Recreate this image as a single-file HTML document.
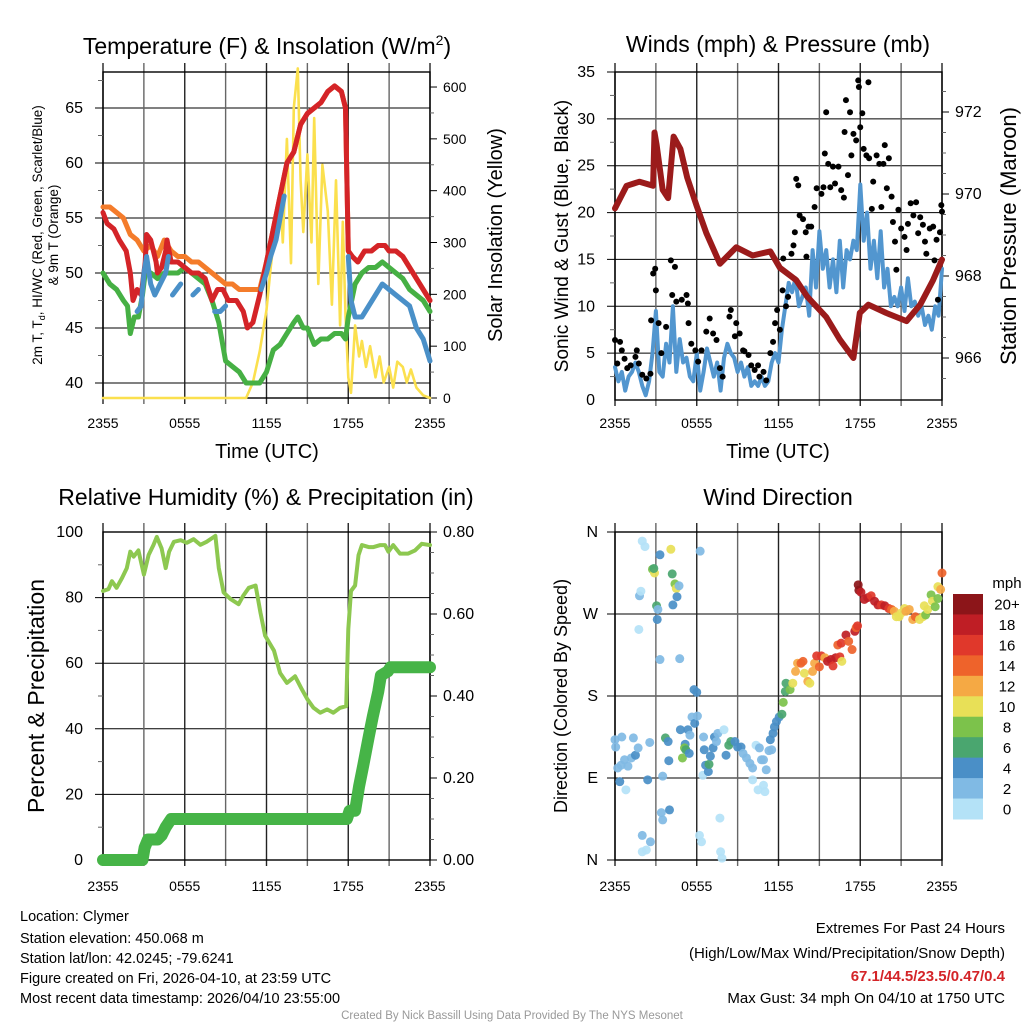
<!DOCTYPE html>
<html><head><meta charset="utf-8"><style>
html,body{margin:0;padding:0;background:#fff;}
svg{display:block;font-family:"Liberation Sans",Arial,sans-serif;}
</style></head><body>
<svg id="chart" width="1024" height="1024" viewBox="0 0 1024 1024" xmlns="http://www.w3.org/2000/svg">
<rect width="1024" height="1024" fill="#fff"/>
<text x="267" y="54" font-size="23" text-anchor="middle">Temperature (F) &amp; Insolation (W/m<tspan font-size="14" dy="-9">2</tspan><tspan dy="9">)</tspan></text>
<text x="778" y="52" font-size="23" text-anchor="middle">Winds (mph) &amp; Pressure (mb)</text>
<text x="266" y="505" font-size="23" text-anchor="middle">Relative Humidity (%) &amp; Precipitation (in)</text>
<text x="778" y="505" font-size="23" text-anchor="middle">Wind Direction</text>

<text transform="translate(42,235) rotate(-90)" font-size="13.5" text-anchor="middle">2m T, T<tspan font-size="9" dy="3">d</tspan><tspan dy="-3">, HI/WC (Red, Green, Scarlet/Blue)</tspan></text>
<text transform="translate(58,235) rotate(-90)" font-size="13.5" text-anchor="middle">&amp; 9m T (Orange)</text>
<text transform="translate(502,235) rotate(-90)" font-size="20" text-anchor="middle">Solar Insolation (Yellow)</text>
<text transform="translate(568,236) rotate(-90)" font-size="19" text-anchor="middle">Sonic Wind &amp; Gust (Blue, Black)</text>
<text transform="translate(1016,236) rotate(-90)" font-size="22" text-anchor="middle">Station Pressure (Maroon)</text>
<text transform="translate(44,696) rotate(-90)" font-size="23" text-anchor="middle">Percent &amp; Precipitation</text>
<text transform="translate(567,696) rotate(-90)" font-size="18" text-anchor="middle">Direction (Colored By Speed)</text>
<text x="267" y="458" font-size="20" text-anchor="middle">Time (UTC)</text>
<text x="778" y="458" font-size="20" text-anchor="middle">Time (UTC)</text>

<g font-size="14.5">
<text x="20" y="921">Location: Clymer</text>
<text x="20" y="943">Station elevation: 450.068 m</text>
<text x="20" y="963">Station lat/lon: 42.0245; -79.6241</text>
<text x="20" y="983">Figure created on Fri, 2026-04-10, at 23:59 UTC</text>
<text x="20" y="1003">Most recent data timestamp: 2026/04/10 23:55:00</text>
</g>
<g font-size="15" text-anchor="end">
<text x="1005" y="933">Extremes For Past 24 Hours</text>
<text x="1005" y="958">(High/Low/Max Wind/Precipitation/Snow Depth)</text>
<text x="1005" y="981" fill="#d42428" font-weight="bold">67.1/44.5/23.5/0.47/0.4</text>
<text x="1005" y="1003">Max Gust: 34 mph On 04/10 at 1750 UTC</text>
</g>
<text x="512" y="1019" font-size="11.5" fill="#999" text-anchor="middle">Created By Nick Bassill Using Data Provided By The NYS Mesonet</text>
<g id="layer"></g>
</svg>
<script>
// ---- data ----
const tempT=[0,0.3,0.8,1.2,1.7,2,2.2,2.5,2.8,3.1,3.2,3.5,3.9,4,4.3,4.6,4.7,5,5.5,6,6.5,7,7.5,8,8.4,8.8,9.2,9.8,10.3,10.6,11,11.5,12,12.5,13,13.5,14,14.5,15,15.5,16,16.5,17,17.5,17.8,18,18.3,18.7,19.2,19.7,20.2,20.7,21,21.5,22,22.5,23,23.5,24];
const tempV=[55.5,54.5,54,53,52,50,47.5,48.5,48,51,53.5,53,51,50,50.5,52,53,51,51,50.5,50,50,49.5,47.5,48.5,48.5,47.5,47.5,46.5,45,45.5,48,51,54,57,60,61,63.5,64.5,65,65.5,66.5,67,66.5,65,52,51.5,51,52,52,52.5,52.5,52,52,51.5,50.5,49.5,48.5,47.5];
const t9T=[0,0.5,1,1.5,2,2.5,3,3.5,4,4.5,5,5.5,6,6.5,7,7.5,8,8.5,9,9.5,10,10.5,11,11.5,12,12.5,13,13.5,14,14.5,15,15.5,16,16.5,17,17.5,17.8,18,18.3,18.7,19.2,19.7,20.2,20.7,21,21.5,22,22.5,23,23.5,24];
const t9V=[56,56,55.5,55,53.5,53,52,52.5,51.5,53,52,51.5,51.5,51,51,50.5,50,49.5,49,49,48.5,48.5,48.5,48.5,51,54,57,60,61,63.5,64.5,65,65.5,66.5,67,66.5,65,52,51.5,51,52,52,52.5,52.5,52,52,51.5,50.5,49.5,48.5,47.5];
const dewT=[0,0.5,1,1.5,1.8,2,2.3,2.6,2.9,3.1,3.5,4,4.5,5,5.5,6,6.5,7,7.5,8,8.5,9,9.5,10,10.5,11,11.5,12,12.5,13,13.5,14,14.3,14.7,15,15.5,16,16.5,17,17.5,17.8,18,18.5,19,19.5,20,20.5,21,21.5,22,22.5,23,23.5,24];
const dewV=[50,49,48.5,47.5,47,44.5,46,46,48,50,50,49.5,50,50,50,50.5,50,49.5,49,47.5,45.5,42,41.5,41,40,40,40,41,43,43.5,44.5,45.5,46,45,45,43.5,44,44,44.5,44.5,44,46,49,50,50.5,50.5,51,50.5,50,49.5,48.5,48,47.5,46.5];
const hiT=[2.5,2.8,3,3.2,3.5,3.8,4.2,4.6,4.8,4.9,5.1,5.4,5.7,5.8,6.6,7,7.1,8.2,8.6,9,9.1,11.6,12,12.3,12.7,13,13.3,13.4,18,18.2,18.5,19,19.5,20,20.5,21,21.5,22,22.5,23,23.5,24];
const hiV=[46.5,47,50,51.5,49,48,49,50,51.5,null,48,48.5,49,null,48,48.5,null,46.5,46.5,47,null,48.5,50,51.5,53,55,57,null,51.5,47.5,46,46,47,48,49,48.5,48,47.5,47,45,44,42];
const solT=[0,10.5,11,11.5,12,12.3,12.6,13,13.2,13.5,13.8,14,14.3,14.5,14.7,15,15.3,15.5,15.8,16.1,16.5,16.8,17.1,17.4,17.6,17.8,18,18.2,18.5,18.8,19,19.3,19.6,20,20.3,20.6,21,21.3,21.6,22,22.3,22.6,23,23.5,24];
const solV=[0,0,30,90,170,250,320,400,300,500,260,560,636,420,320,470,300,540,220,450,360,180,420,140,340,160,40,10,140,80,110,60,100,40,80,30,60,20,70,60,30,55,20,5,0];
const windT=[];for(let i=0;i<=96;i++)windT.push(i*0.25);
const windV=[3.5,2,3,1,2.5,3,4,3,1.5,0.5,2,5,9.5,3,2.5,6,4,10,3,6.5,4,4.5,2.5,2,5,1,3,5.5,4,2.5,4,1,4.5,6,5,4.5,3,4,2.5,3.5,1.5,2,1.5,2.5,1.5,2,4,5,4,7.5,10,12.5,11.5,13,10,11,12,9,16,12,18,14,16,12,15,11.5,17,12,16,15,17,16,23,17,20,14,17,13,18,12,14,10,11,10,12,9.5,13,10,10.5,9,10,8,9,7.5,10,9,14];
const gustT=[0,.17,.37,.5,.7,.9,1.15,1.5,1.6,1.75,2,2.3,2.6,2.65,2.8,2.95,3,3.2,3.4,3.75,4.1,4.2,4.4,4.5,4.9,5.25,5.35,5.4,5.6,5.9,6.1,6.35,6.7,6.95,7.2,7.45,7.7,7.9,8.4,8.5,8.8,8.9,9.15,9.4,9.5,9.8,10,10.25,10.5,10.6,10.9,11.1,11.4,11.6,11.75,11.9,12.1,12.3,12.35,12.55,12.7,12.95,13.1,13.2,13.3,13.45,13.55,13.8,14,14.05,14.2,14.4,14.65,14.8,15.15,15.3,15.4,15.5,15.65,15.8,16,16.15,16.4,16.6,16.8,16.85,16.95,17.1,17.25,17.35,17.5,17.7,17.85,17.9,18,18.15,18.25,18.45,18.6,18.65,18.85,18.95,19.2,19.4,19.55,19.7,19.8,19.95,20.1,20.3,20.4,20.55,20.65,20.8,21,21.25,21.4,21.5,21.7,21.9,22.1,22.25,22.4,22.6,22.75,22.85,23.1,23.35,23.45,23.6,23.7,23.85,23.95,24];
const gustV=[6.4,3.9,6.2,5.3,4.4,3.4,3.7,4.6,5.3,3.9,2.7,2.3,2.8,8.5,13.5,14,11.7,8.2,5,7.8,14.9,11.2,14.2,10.5,10.7,11.2,10.3,8.2,6,5.3,4.1,5.3,7.3,8.7,7.1,6.4,3.4,2.5,8.9,9.6,6.8,8.2,7.1,5.3,5.2,4.8,3.7,3.2,3.7,2.5,3,2.1,5,6.2,8.2,9.6,7.5,11.7,15.1,10,11,15.6,16.5,17.9,23.6,22.9,19.7,19.3,17.9,15.3,18.5,18.5,20.6,22.6,22,22.7,26.3,30.7,25.2,22.7,24.9,23.1,24.9,22.4,21.6,28.6,32,24,30.7,26.1,28.4,27.7,34.1,33.4,29.1,30.6,26.8,26.1,33.9,25.8,20.4,23.3,26.1,25.2,20.6,25.2,27.2,22.6,25.8,21.7,19,16.9,13.9,20.3,18.3,17.4,16,18.8,21,19.7,21.1,17.8,19.5,18.7,16.9,15.6,18.3,18.5,14.9,17.1,10.7,17.9,20.8,20.1];
const presT=[0,0.85,1.8,2.8,2.9,3.05,3.5,3.9,4.3,4.8,5.3,6,6.7,7.7,8.9,10.1,11.4,12.1,13.3,14.1,15.5,16.5,17.5,17.97,18.6,19.9,21.4,22.4,23.35,24];
const presV=[969.65,970.2,970.3,970.2,971.5,971.2,970.1,969.9,971.4,971.1,970.4,969.7,969.05,968.3,968.7,968.5,968.6,968.2,967.9,967.5,967.0,966.45,966.0,967.1,967.3,967.1,966.9,967.3,967.9,968.4];
const rhT=[0,0.4,0.65,1,1.4,1.75,2,2.25,2.6,3,3.35,3.7,3.95,4.3,4.6,4.85,5.2,5.7,6.15,6.65,7.15,7.6,8.25,8.5,8.85,9.35,9.95,10.3,10.7,11.2,11.55,11.9,12.55,13,13.5,14.1,14.6,15,15.45,15.95,16.45,16.9,17.4,17.85,18,18.2,18.5,18.75,19,19.5,19.85,20.35,20.7,20.95,21.3,21.8,22.4,22.9,23.4,24];
const rhV=[82,82.6,85,83,86,89,94,92.5,94.4,87,93,96,98.5,95,89,94,97,97.5,96.7,97.8,96.1,97,98.8,89,81.6,79.6,78,80.6,83,83.7,75.5,68.4,63.8,57,54,56,52,49,46.4,44.9,45.9,44.9,46.4,46.9,70.4,82,83.7,92.9,96,95.4,95.4,96,96,94,96,93.4,93.4,94.4,96.4,96];
const prT=[0,2.9,3.05,3.3,4,4.3,4.6,5,5.5,17.9,18.1,18.5,18.8,19.1,19.5,19.8,20.2,20.4,20.9,21.1,24];
const prV=[0,0,0.03,0.05,0.05,0.06,0.08,0.1,0.1,0.1,0.12,0.12,0.18,0.23,0.3,0.35,0.41,0.45,0.46,0.47,0.47];
const dirT=[0,0.05,0.2,0.45,0.35,0.7,0.95,1.2,1.35,1.5,1.7,0.5,0.8,1.8,1.9,1.75,2,2.2,2.55,2.4,2,2,2.3,2.6,2.75,2.9,2.85,3.05,3.15,3.1,3.3,3.3,3.5,3.5,3.7,3.9,3.95,3.4,4,4.1,4.2,4.4,4.5,4.7,4.55,4.25,4.75,4.8,5.35,5.15,5.1,5.2,4.95,5.45,5.5,5.65,5.8,6,5.85,6.05,6.25,6.2,6.35,6.45,6.5,6.55,6.65,6.85,6.9,7,7.2,7.3,7.55,7.45,7.7,7.75,7.85,8,8.15,8.35,8.5,8.8,9,9.25,9.4,9.65,9.9,10.1,10.1,10.35,10.6,10.75,10.5,10.9,11,11.1,11.3,11.5,10.9,11.4,11.6,11.7,11.85,12.05,12.25,12.35,12.5,12.55,12.85,13.05,13.25,13.4,13.65,13.8,13.9,14.15,14.3,14.5,14.65,14.8,15,15.15,15.4,15.6,15.85,16,16.2,16.5,16.65,16.35,16.6,16.95,17.15,17.4,17.6,17.7,17.8,17.85,17.9,18.05,18.3,18.55,18.8,19.05,19.3,19.55,19.8,20.1,20.3,20.5,20.65,20.85,21,21.25,21.35,21.6,21.85,22.05,22.35,22.6,22.8,22.7,22.95,23.2,23.3,23.5,23.7,23.7,23.9,24];
const dirV=[132,124,101,104,86,110,103,112,134,115,123,135,77,290,295,253,350,344,129,88,27,9,11,20,319,315,320,279,275,264,335,220,44,92,134,130,109,52,55,341,314,303,298,301,289,280,221,143,143,127,123,121,112,117,137,157,187,184,150,158,339,27,20,93,135,121,104,97,105,114,123,135,139,130,46,9,2,143,115,126,130,130,124,124,117,112,106,101,88,126,123,110,77,82,75,99,120,121,110,132,139,146,152,157,160,173,185,194,187,194,207,216,216,218,205,196,194,207,216,224,212,224,222,218,220,213,222,223,218,236,238,247,240,231,251,255,257,302,296,294,286,288,290,284,280,280,279,276,275,273,267,267,271,276,273,275,264,267,264,267,269,279,275,291,284,278,287,300,297,315];
const dirS=[2,2,2,2,4,2,2,2,2,4,2,2,0,2,0,0,0,0,2,4,2,0,0,2,8,10,6,6,2,4,4,2,2,2,6,4,4,2,4,10,6,8,10,2,4,4,2,4,4,4,8,6,8,4,2,2,4,4,4,2,2,0,0,0,2,4,4,4,6,4,4,4,2,2,0,0,0,0,4,6,6,4,4,4,2,2,2,2,0,0,2,2,0,0,0,2,2,2,2,4,4,4,4,4,6,8,6,6,8,10,12,12,14,14,10,12,10,12,12,16,14,16,12,18,18,16,18,16,10,14,16,18,14,14,18,14,16,20,20,18,18,18,16,18,18,16,18,16,14,12,10,10,10,10,12,12,12,14,10,10,8,10,10,8,10,8,8,10,12,14];
const tempTicks=[40,45,50,55,60,65];
const solarTicks=[0,100,200,300,400,500,600];
const windTicks=[0,5,10,15,20,25,30,35];
const presTicks=[966,968,970,972];
const rhTicks=[0,20,40,60,80,100];
const prTicks=["0.00","0.20","0.40","0.60","0.80"];
const dirTicks=["N","E","S","W","N"];
const timeLabels=["2355","0555","1155","1755","2355"];
const cbLabels=["0","2","4","6","8","10","12","14","16","18","20+"];
const cbColors=["#b4e2f7","#80bae4","#4a8fc7","#4aa66f","#7cc24b","#e8e057","#f5a944","#ee632b","#e0382b","#bf1e25","#8c1519"];

// ---- helpers ----
const NS="http://www.w3.org/2000/svg";
const layer=document.getElementById('layer');
function mk(tag,attrs,parent){const e=document.createElementNS(NS,tag);for(const k in attrs)e.setAttribute(k,attrs[k]);(parent||layer).appendChild(e);return e;}
function txt(x,y,s,size,anchor,parent){const e=mk('text',{x:x,y:y,'font-size':size,'text-anchor':anchor||'middle'},parent);e.textContent=s;return e;}
function pathD(T,V,fx,fy){let d='',pen=false;for(let i=0;i<T.length;i++){if(V[i]===null||V[i]===undefined){pen=false;continue;}d+=(pen?'L':'M')+fx(T[i]).toFixed(1)+','+fy(V[i]).toFixed(1);pen=true;}return d;}

const P1={x0:103,x1:430,y0:72,y1:398};
const P2={x0:615,x1:942,y0:72,y1:400};
const P3={x0:103,x1:430,y0:532,y1:860};
const P4={x0:615,x1:942,y0:532,y1:860};
const xs=p=>t=>p.x0+t/24*(p.x1-p.x0);
const x1=xs(P1),x2=xs(P2),x3=xs(P3),x4=xs(P4);
const yT=v=>383-(v-40)*11;
const ySol=v=>398-v*0.5183;
const yW=v=>400-v*328/35;
const yP=v=>358-(v-966)*41;
const yRH=v=>860-v*3.28;
const yPr=v=>860-v*410;
const yD=v=>860-v*328/360;

function frame(p,name,xf,tickY){
  const g=mk('g',{});
  
  
  for(let h=0;h<=24;h+=3){const x=xf(h);const l=mk('line',{x1:x,x2:x,y1:p.y0-9,y2:p.y1+6,stroke:(h%6==0)?'#222':'#666','stroke-width':1.4},g);
    
    }
  for(let i=0;i<timeLabels.length;i++){const t=txt(xf(i*6),tickY,timeLabels[i],14);
    
    }
  const b=mk('rect',{x:p.x0,y:p.y0,width:p.x1-p.x0,height:p.y1-p.y0,fill:'none',stroke:'#000','stroke-width':1.4});
  
  
}
function hgrid(p,vals,fy){for(const v of vals){const y=fy(v);const l=mk('line',{x1:p.x0-8,x2:p.x1,y1:y,y2:y,stroke:'#000','stroke-width':1});
  
  }}
function lticks(p,vals,fy,labels,size,minorVals,off){
  vals.forEach((v,i)=>{const t=txt(p.x0-(off||20),fy(v)+5,labels?labels[i]:String(v),size,'end');
    
    });
  (minorVals||[]).forEach(v=>{const l=mk('line',{x1:p.x0-5,x2:p.x0,y1:fy(v),y2:fy(v),stroke:'#666'});
    
    });
}
function rticks(p,vals,fy,labels,size,minorVals){
  vals.forEach((v,i)=>{const y=fy(v);const l=mk('line',{x1:p.x1,x2:p.x1+7,y1:y,y2:y,stroke:'#000'});
    
    
    const t=txt(p.x1+13,y+5,labels?labels[i]:String(v),size,'start');
    
    });
  (minorVals||[]).forEach(v=>{const l=mk('line',{x1:p.x1,x2:p.x1+4,y1:fy(v),y2:fy(v),stroke:'#666'});
    
    });
}
function line(d,color,w,name){const e=mk('path',{d:d,fill:'none',stroke:color,'stroke-width':w,'stroke-linejoin':'round','stroke-linecap':'round'});
  
  return e;}

// ---- panel 1 ----
hgrid(P1,tempTicks,yT);
frame(P1,'temp',x1,428);
lticks(P1,tempTicks,yT,null,16,[42.5,47.5,52.5,57.5,62.5,67.5]);
rticks(P1,solarTicks,ySol,null,14,[50,150,250,350,450,550]);
line(pathD(solT,solV,x1,ySol),'#fbe04e',2.6,'solar-insolation-line');
line(pathD(t9T,t9V,x1,yT),'#f47c2b',5,'temp-9m-line');
line(pathD(dewT,dewV,x1,yT),'#46b044',5,'dewpoint-line');
line(pathD(tempT,tempV,x1,yT),'#d42428',5,'temp-2m-line');
line(pathD(hiT,hiV,x1,yT),'#4a90c8',5,'heat-index-windchill-line');

// ---- panel 2 ----
hgrid(P2,windTicks.slice(1),yW);
frame(P2,'wind',x2,428);
lticks(P2,windTicks,yW,null,16,[2.5,7.5,12.5,17.5,22.5,27.5,32.5]);
rticks(P2,presTicks,yP,null,16,[965.5,966.5,967,967.5,968.5,969,969.5,970.5,971,971.5,972.5]);
line(pathD(windT,windV,x2,yW),'#5296cf',4,'sonic-wind-line');
for(let i=0;i<gustT.length;i++){const c=mk('circle',{cx:x2(gustT[i]),cy:yW(gustV[i]),r:3,fill:'#000'});
  
  }
line(pathD(presT,presV,x2,yP),'#9b1b1b',6,'station-pressure-line');

// ---- panel 3 ----
hgrid(P3,rhTicks.slice(1,5),yRH);
frame(P3,'rh',x3,891);
lticks(P3,rhTicks,yRH,null,16,[10,30,50,70,90]);
rticks(P3,[0,0.2,0.4,0.6,0.8],yPr,prTicks,16,[0.05,0.1,0.15,0.25,0.3,0.35,0.45,0.5,0.55,0.65,0.7,0.75]);
line(pathD(rhT,rhV,x3,yRH),'#8dc850',4,'relative-humidity-line');
line(pathD(prT,prV,x3,yPr),'#46b447',12,'precipitation-line');

// ---- panel 4 ----
hgrid(P4,[90,180,270,360,0],yD);
frame(P4,'direction',x4,891);
lticks(P4,[0,90,180,270,360],yD,dirTicks,16,[],17);
for(let i=0;i<dirT.length;i++){const k=Math.min(10,Math.floor(dirS[i]/2));const c=mk('circle',{cx:x4(dirT[i]),cy:yD(dirV[i]),r:4.5,fill:cbColors[k],'fill-opacity':0.92});
  
  }
// colorbar
const cb=mk('g',{});


const cbTop=594,cbH=225/11;
for(let i=0;i<11;i++){const k=10-i;const r=mk('rect',{x:953,y:cbTop+i*cbH,width:30,height:cbH+0.5,fill:cbColors[k]},cb);
  
  
  const t=txt(1007,cbTop+i*cbH+cbH/2+5.5,cbLabels[k],15,'middle',cb);
  
  }
const mph=txt(1007,588,'mph',15,'middle',cb);


</script>
</body></html>
